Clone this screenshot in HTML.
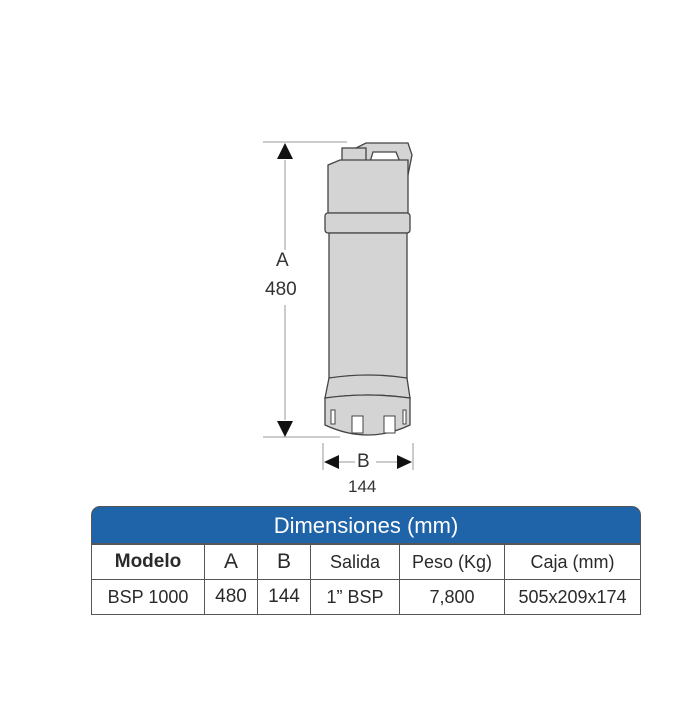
<!DOCTYPE html>
<html><head><style>
body{margin:0;background:#fff;width:698px;height:711px;position:relative;font-family:"Liberation Sans",sans-serif;overflow:hidden}
.t{position:absolute;color:#333}
table{position:absolute;left:91px;top:506px;width:550px;border-collapse:collapse;font-size:19px;color:#2a2a2a}
td{border:1px solid #555;text-align:center;padding:0;height:34px}
</style></head><body>
<svg width="698" height="711" style="position:absolute;left:0;top:0">
<g stroke="#444" fill="#d4d4d4" stroke-width="1.3">
<path d="M356,165 L356,148 L366,143 L408,143 L412,155 L408,175 L400,165 Z"/>
<path d="M370,162 L400,162 L396,152 L373,152 Z" fill="#fff"/>
<rect x="342" y="148" width="24" height="20"/>
<path d="M328,165 L340,160 L408,160 L408,213 L328,213 Z"/>
<rect x="325" y="213" width="85" height="20" rx="3"/>
<rect x="329" y="233" width="78" height="145"/>
<path d="M329,378 Q368,372 407,378 L410,398 Q368,392 325,398 Z"/>
<path d="M325,398 Q368,392 410,398 L410,425 Q368,445 325,425 Z"/>
</g>
<g fill="#fff" stroke="#444" stroke-width="1">
<rect x="331" y="410" width="4" height="14"/><rect x="352" y="416" width="11" height="17"/><rect x="384" y="416" width="11" height="17"/><rect x="403" y="410" width="3" height="14"/>
</g>
<g stroke="#999" stroke-width="1">
<line x1="263" y1="142" x2="347" y2="142"/><line x1="263" y1="437" x2="340" y2="437"/>
<line x1="285" y1="160" x2="285" y2="250"/><line x1="285" y1="305" x2="285" y2="420"/>
<line x1="323" y1="443" x2="323" y2="470"/><line x1="413" y1="443" x2="413" y2="470"/>
<line x1="338" y1="462" x2="355" y2="462"/><line x1="376" y1="462" x2="400" y2="462"/>
</g>
<g fill="#111">
<polygon points="285,143 277,159 293,159"/><polygon points="285,437 277,421 293,421"/>
<polygon points="324,462 339,455 339,469"/><polygon points="412,462 397,455 397,469"/>
</g>
</svg>
<div class="t" style="left:276px;top:250px;font-size:19px">A</div>
<div class="t" style="left:265px;top:279px;font-size:19px">480</div>
<div class="t" style="left:357px;top:451px;font-size:19px">B</div>
<div class="t" style="left:348px;top:477px;font-size:17px">144</div>
<div style="position:absolute;left:91px;top:506px;width:550px;height:38px;background:#1f63a8;border-radius:9px 9px 0 0;color:#fff;font-size:22px;text-align:center;line-height:38px;border:1px solid #555;box-sizing:border-box">Dimensiones (mm)</div>
<table style="top:544px">
<tr><td style="width:112px;font-weight:bold">Modelo</td><td style="width:52px;font-size:21px">A</td><td style="width:52px;font-size:21px">B</td><td style="width:88px;font-size:18px">Salida</td><td style="width:104px;font-size:18px">Peso (Kg)</td><td style="font-size:18px">Caja (mm)</td></tr>
<tr><td style="font-size:18px">BSP 1000</td><td>480</td><td>144</td><td style="font-size:18px">1” BSP</td><td style="font-size:18px">7,800</td><td style="font-size:18px">505x209x174</td></tr>
</table>
</body></html>
